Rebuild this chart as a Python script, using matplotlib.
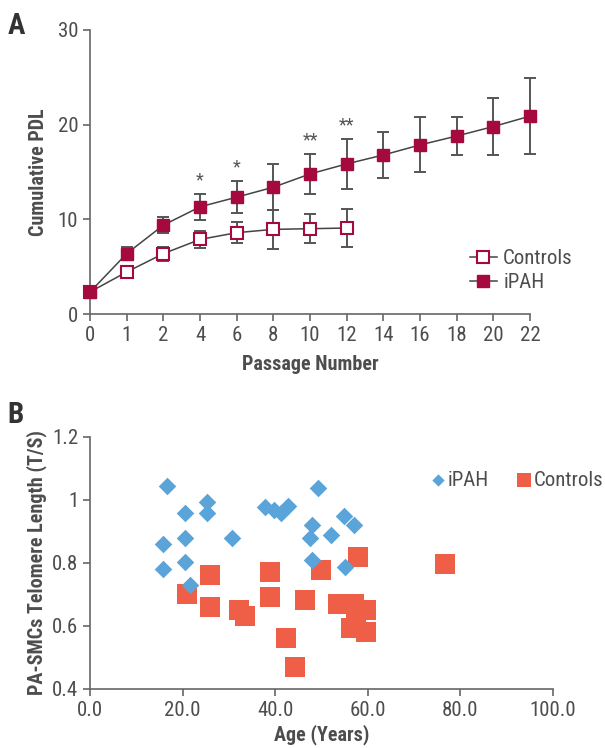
import matplotlib
matplotlib.use("Agg")
import matplotlib.pyplot as plt
from matplotlib.lines import Line2D
import numpy as np

plt.rcParams['font.family'] = ['Roboto Condensed', 'Roboto', 'DejaVu Sans']

# Panel A data
passages = ["0", "1", "2", "4", "6", "8", "10", "12", "14", "16", "18", "20", "22"]
ipah_mean = [2.35, 6.4, 9.4, 11.33, 12.35, 13.4, 14.8, 15.86, 16.8, 17.86, 18.8, 19.8, 20.9]
ipah_err = [0.0, 0.65, 0.85, 1.35, 1.7, 2.4, 2.1, 2.6, 2.4, 2.9, 2.0, 3.0, 4.0]
ctrl_mean = [2.35, 4.46, 6.39, 7.89, 8.6, 8.95, 9.02, 9.09]
ctrl_err = [0.0, 0.4, 0.75, 0.9, 1.1, 2.05, 1.55, 2.0]
stars = {"4": "*", "6": "*", "10": "**", "12": "**"}

# Panel B data
ipah_age = [16.5, 15.8, 15.8, 20.6, 20.6, 20.6, 21.6, 25.3, 25.3, 30.7, 37.8,
            39.7, 41.3, 42.8, 48.0, 47.4, 48.0, 49.2, 52.0, 54.8, 57.1, 55.0]
ipah_tl = [1.044, 0.859, 0.78, 0.957, 0.879, 0.803, 0.729, 0.993, 0.957, 0.879, 0.977,
           0.968, 0.958, 0.982, 0.919, 0.879, 0.81, 1.037, 0.888, 0.949, 0.92, 0.788]
ctrl_age = [21.0, 26.0, 26.0, 32.1, 33.5, 38.8, 38.8, 42.4, 44.2, 46.4, 49.8,
            53.5, 57.1, 57.8, 59.5, 57.4, 56.3, 59.5, 76.6]
ctrl_tl = [0.701, 0.761, 0.66, 0.652, 0.63, 0.771, 0.691, 0.563, 0.468, 0.683, 0.776,
           0.671, 0.671, 0.818, 0.651, 0.635, 0.592, 0.58, 0.798]

CRIMSON = "#a6093d"
GRAY = "#555555"
TXT = "#4d4d4d"

fig = plt.figure(figsize=(6.05, 7.48), dpi=100)

# ---- Panel A
ax = fig.add_axes([0.149, 0.580, 0.727, 0.380])
xi = np.arange(len(passages))
xc = np.arange(len(ctrl_mean))
for x, m, e in ((xc, ctrl_mean, ctrl_err), (xi, ipah_mean, ipah_err)):
    ax.errorbar(x, m, yerr=e, fmt="none", ecolor=GRAY, elinewidth=1.4,
                capsize=4, capthick=1.4, zorder=2, clip_on=False)
    ax.plot(x, m, color="#444444", lw=1.1, zorder=3, clip_on=False)
ax.plot(xc, ctrl_mean, ls="none", marker="s", ms=8.5, mfc="white", mec=CRIMSON, mew=1.5,
        zorder=4, clip_on=False)
ax.plot(xi, ipah_mean, ls="none", marker="s", ms=8.5, mfc=CRIMSON, mec=CRIMSON,
        zorder=5, clip_on=False)
for i, p in enumerate(passages):
    if p in stars:
        ax.text(i, ipah_mean[i] + ipah_err[i] + 0.5, stars[p], ha="center", va="bottom",
                fontsize=13, color=GRAY)
ax.set_xlim(0, len(passages) - 1)
ax.set_ylim(0, 30)
ax.set_xticks(xi)
ax.set_xticklabels(passages)
ax.set_yticks([0, 10, 20, 30])
ax.set_xlabel("Passage Number", fontsize=14.5, fontweight="bold", color=TXT, labelpad=7)
ax.set_ylabel("Cumulative PDL", fontsize=14.5, fontweight="bold", color=TXT, labelpad=7)
handles = [Line2D([], [], color="#444444", lw=1.1, marker="s", ms=8.5, mfc="white",
                  mec=CRIMSON, mew=1.5),
           Line2D([], [], color="#444444", lw=1.1, marker="s", ms=8.5, mfc=CRIMSON,
                  mec=CRIMSON)]
ax.legend(handles, ["Controls", "iPAH"], loc="center right", bbox_to_anchor=(1.14, 0.153),
          frameon=False, fontsize=15, handlelength=1.3, handletextpad=0.3,
          labelspacing=0.25, labelcolor=TXT)

# ---- Panel B
bx = fig.add_axes([0.149, 0.079, 0.765, 0.337])
bx.scatter(ipah_age, ipah_tl, marker="D", s=80, color="#5ba4da", lw=0, label="iPAH", zorder=3)
bx.scatter(ctrl_age, ctrl_tl, marker="s", s=210, color="#ef5f48", lw=0, label="Controls", zorder=2)
bx.set_xlim(0, 100)
bx.set_ylim(0.4, 1.2)
bx.set_xticks(np.arange(0, 101, 20))
bx.set_xticklabels([f"{v:.1f}" for v in np.arange(0, 101, 20)])
bx.set_yticks([0.4, 0.6, 0.8, 1.0, 1.2])
bx.set_yticklabels(["0.4", "0.6", "0.8", "1", "1.2"])
bx.set_xlabel("Age (Years)", fontsize=14.5, fontweight="bold", color=TXT, labelpad=3)
bx.set_ylabel("PA-SMCs Telomere Length (T/S)", fontsize=14.5, fontweight="bold", color=TXT,
              labelpad=4)
bx.legend(loc="upper right", bbox_to_anchor=(1.15, 0.94), ncol=2, frameon=False, fontsize=15,
          handlelength=0.7, handletextpad=0.15, columnspacing=1.3, labelcolor=TXT,
          markerscale=0.7)

for a in (ax, bx):
    for s in ("top", "right"):
        a.spines[s].set_visible(False)
    for s in ("left", "bottom"):
        a.spines[s].set_color("#666666")
        a.spines[s].set_linewidth(1.2)
    a.tick_params(colors="#666666", labelcolor=TXT, labelsize=15, length=5, width=1.2)

fig.text(0.012, 0.955, "A", fontsize=21, fontweight="bold", color="#333333")
fig.text(0.012, 0.435, "B", fontsize=21, fontweight="bold", color="#333333")

fig.savefig("out.png", dpi=100)
